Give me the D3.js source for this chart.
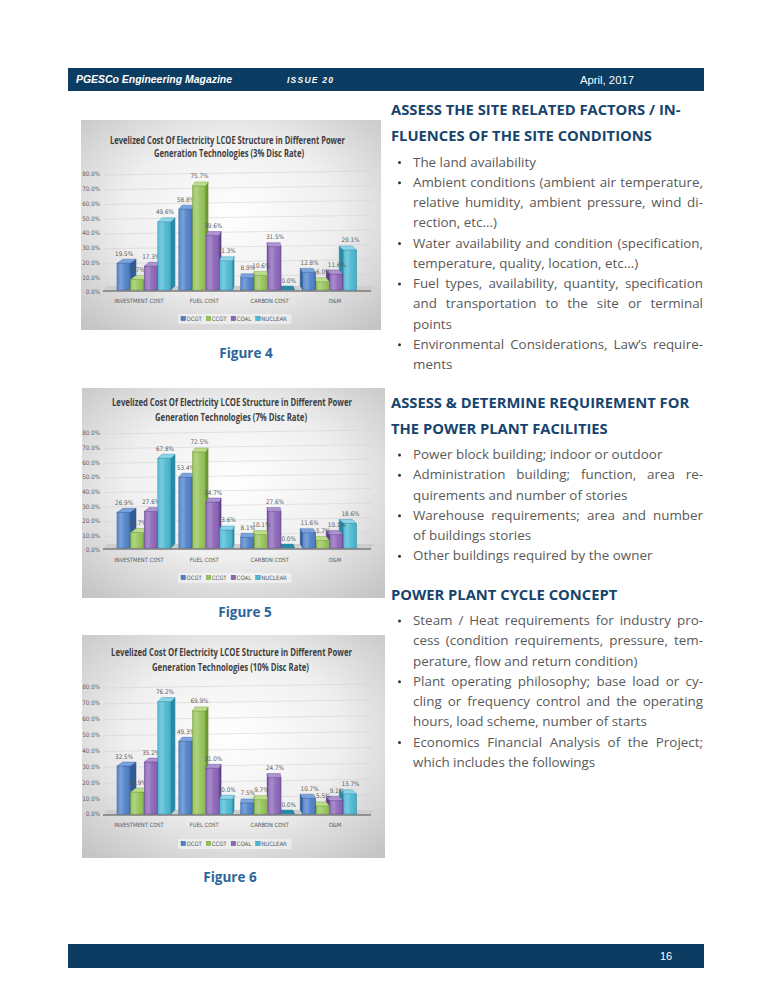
<!DOCTYPE html>
<html><head><meta charset="utf-8">
<script src="https://cdn.jsdelivr.net/npm/d3@7"></script>
<style>
html,body{margin:0;padding:0;background:#fff;}
svg{display:block;}
</style></head>
<body>
<svg id="page" width="772" height="1000"></svg>
<script>
// ---------------- DATA ----------------
const categories = ["INVESTMENT COST", "FUEL COST", "CARBON COST", "O&M"];
const technologies = ["OCGT", "CCGT", "COAL", "NUCLEAR"];
const yTicks = [0, 10, 20, 30, 40, 50, 60, 70, 80];

// 3% discount rate (values per technology, in category order)
const disc3_OCGT    = [19.5, 58.8, 8.9, 12.8];
const disc3_CCGT    = [7.7, 75.7, 10.6, 6.0];
const disc3_COAL    = [17.3, 39.6, 31.5, 11.6];
const disc3_NUCLEAR = [49.6, 21.3, 0.0, 29.1];
// 7% discount rate
const disc7_OCGT    = [26.9, 53.4, 8.1, 11.6];
const disc7_CCGT    = [11.7, 72.5, 10.1, 5.7];
const disc7_COAL    = [27.6, 34.7, 27.6, 10.1];
const disc7_NUCLEAR = [67.8, 13.6, 0.0, 18.6];
// 10% discount rate
const disc10_OCGT    = [32.5, 49.3, 7.5, 10.7];
const disc10_CCGT    = [14.9, 69.9, 9.7, 5.5];
const disc10_COAL    = [35.2, 31.0, 24.7, 9.1];
const disc10_NUCLEAR = [76.2, 10.0, 0.0, 13.7];

const chartTitleLine1 = "Levelized Cost Of Electricity LCOE Structure in Different Power";
const chartTitleLine2 = ["Generation Technologies (3% Disc Rate)", "Generation Technologies (7% Disc Rate)", "Generation Technologies (10% Disc Rate)"];
const figureLabels = ["Figure 4", "Figure 5", "Figure 6"];

const headerLeft = "PGESCo Engineering Magazine";
const headerIssue = "ISSUE 20";
const headerDate = "April, 2017";
const pageNumber = "16";

const section1Heading = ["ASSESS THE SITE RELATED FACTORS / IN-", "FLUENCES OF THE SITE CONDITIONS"];
const section1Items = [
  ["The land availability"],
  ["Ambient conditions (ambient air temperature,", "relative humidity, ambient pressure, wind di-", "rection, etc...)"],
  ["Water availability and condition (specification,", "temperature, quality, location, etc...)"],
  ["Fuel types, availability, quantity, specification", "and transportation to the site or terminal", "points"],
  ["Environmental Considerations, Law\u2019s require-", "ments"]
];
const section2Heading = ["ASSESS & DETERMINE REQUIREMENT FOR", "THE POWER PLANT FACILITIES"];
const section2Items = [
  ["Power block building; indoor or outdoor"],
  ["Administration building; function, area re-", "quirements and number of stories"],
  ["Warehouse requirements; area and number", "of buildings stories"],
  ["Other buildings required by the owner"]
];
const section3Heading = ["POWER PLANT CYCLE CONCEPT"];
const section3Items = [
  ["Steam / Heat requirements for industry pro-", "cess (condition requirements, pressure, tem-", "perature, flow and return condition)"],
  ["Plant operating philosophy; base load or cy-", "cling or frequency control and the operating", "hours, load scheme, number of starts"],
  ["Economics Financial Analysis of the Project;", "which includes the followings"]
];

// ---------------- STYLE ----------------
const NAVY = "#0c3c61";
const HEAD = "#16446d";
const BODY = "#595959";
const FIG = "#2a6599";
const techColors = {
  OCGT:    {front: "#4f81c9", side: "#2d5c98", top: "#7ba3dd"},
  CCGT:    {front: "#96c45a", side: "#6c9833", top: "#bcdd8c"},
  COAL:    {front: "#8c66b9", side: "#5d3e8b", top: "#ae93d2"},
  NUCLEAR: {front: "#4cb9d3", side: "#2a89a4", top: "#8ad5e8"}
};
const CHART_FONT = "'Liberation Sans Narrow','DejaVu Sans Condensed','Liberation Sans',Arial,sans-serif";

const svg = d3.select("#page");
const defs = svg.append("defs");
const rg = defs.append("radialGradient").attr("id", "chartBg").attr("cx", "50%").attr("cy", "45%").attr("r", "72%");
rg.append("stop").attr("offset", "0%").attr("stop-color", "#ffffff");
rg.append("stop").attr("offset", "50%").attr("stop-color", "#efefef");
rg.append("stop").attr("offset", "100%").attr("stop-color", "#c4c4c4");
const gl = defs.append("linearGradient").attr("id", "glass").attr("x1", 0).attr("x2", 1).attr("y1", 0).attr("y2", 0);
gl.append("stop").attr("offset", "0").attr("stop-color", "#fff").attr("stop-opacity", 0.05);
gl.append("stop").attr("offset", "0.3").attr("stop-color", "#fff").attr("stop-opacity", 0.25);
gl.append("stop").attr("offset", "0.6").attr("stop-color", "#fff").attr("stop-opacity", 0.05);
gl.append("stop").attr("offset", "1").attr("stop-color", "#000").attr("stop-opacity", 0.08);

// ---------------- HEADER / FOOTER ----------------
svg.append("rect").attr("x", 68).attr("y", 68).attr("width", 636).attr("height", 23).attr("fill", NAVY);
svg.append("text").attr("x", 76).attr("y", 83).attr("font-family", "'Liberation Sans',Arial,sans-serif")
  .attr("font-size", 10.5).attr("font-weight", "bold").attr("font-style", "italic").attr("fill", "#fff")
  .attr("textLength", 156).attr("lengthAdjust", "spacingAndGlyphs").text(headerLeft);
svg.append("text").attr("x", 287).attr("y", 83).attr("font-family", "'Liberation Sans',Arial,sans-serif")
  .attr("font-size", 8.5).attr("font-weight", "bold").attr("font-style", "italic").attr("fill", "#fff")
  .attr("textLength", 46).attr("lengthAdjust", "spacing").text(headerIssue);
svg.append("text").attr("x", 580).attr("y", 84).attr("font-family", "'Liberation Sans',Arial,sans-serif")
  .attr("font-size", 11).attr("fill", "#fff")
  .attr("textLength", 54).attr("lengthAdjust", "spacingAndGlyphs").text(headerDate);

svg.append("rect").attr("x", 68).attr("y", 944).attr("width", 636).attr("height", 24).attr("fill", NAVY);
svg.append("text").attr("x", 660).attr("y", 960).attr("font-family", "'Liberation Sans',Arial,sans-serif")
  .attr("font-size", 11).attr("fill", "#fff").text(pageNumber);

// ---------------- CHARTS ----------------
const chartLayouts = [
  {series: [disc3_OCGT, disc3_CCGT, disc3_COAL, disc3_NUCLEAR], box: [81, 120, 300, 210],
   t1: [110, 345, 144], t2: [154, 304, 156.5], base: 290, top: 180, axisBase: 292, axisTop: 174,
   xLabY: 303, legY: 321, fig: [246, 358]},
  {series: [disc7_OCGT, disc7_CCGT, disc7_COAL, disc7_NUCLEAR], box: [82, 388, 303, 210],
   t1: [112, 352, 405.5], t2: [155, 307, 420.5], base: 548, top: 442, axisBase: 550, axisTop: 433,
   xLabY: 562, legY: 580, fig: [245, 617]},
  {series: [disc10_OCGT, disc10_CCGT, disc10_COAL, disc10_NUCLEAR], box: [82, 635, 303, 223],
   t1: [111, 352, 655.5], t2: [152, 309, 670.5], base: 814, top: 696, axisBase: 814, axisTop: 687,
   xLabY: 827, legY: 846, fig: [230, 882]}
];

const VANISH_X = 256, PERSP = 0.045, DEPTH_Y = 4;

function drawChart(cfg, idx) {
  const g = svg.append("g");
  const [bx, by, bw, bh] = cfg.box;
  g.append("rect").attr("x", bx).attr("y", by).attr("width", bw).attr("height", bh).attr("fill", "url(#chartBg)");

  const titleFont = "'Open Sans','Liberation Sans',Arial,sans-serif";
  g.append("text").attr("x", cfg.t1[0]).attr("y", cfg.t1[2]).attr("font-family", titleFont)
    .attr("font-size", 10).attr("font-weight", "bold").attr("fill", "#3f3f3f")
    .attr("textLength", cfg.t1[1] - cfg.t1[0]).attr("lengthAdjust", "spacingAndGlyphs").text(chartTitleLine1);
  g.append("text").attr("x", cfg.t2[0]).attr("y", cfg.t2[2]).attr("font-family", titleFont)
    .attr("font-size", 10).attr("font-weight", "bold").attr("fill", "#3f3f3f")
    .attr("textLength", cfg.t2[1] - cfg.t2[0]).attr("lengthAdjust", "spacingAndGlyphs").text(chartTitleLine2[idx]);

  const yAxisScale = d3.scaleLinear().domain([0, 80]).range([cfg.axisBase, cfg.axisTop]);
  const y = d3.scaleLinear().domain([0, 80]).range([cfg.base, cfg.top]);

  // gridlines (back wall)
  g.selectAll("line.grid").data(yTicks.slice(1)).join("line").attr("class", "grid")
    .attr("x1", 104).attr("x2", 372)
    .attr("y1", d => yAxisScale(d) + 1).attr("y2", d => yAxisScale(d) - 3)
    .attr("stroke", "#d4d4d4").attr("stroke-width", 0.6);

  // y axis labels
  const yAxis = d3.axisLeft(yAxisScale).tickValues(yTicks).tickSize(0).tickPadding(0)
    .tickFormat(d => d.toFixed(1) + "%");
  const ax = g.append("g").attr("transform", "translate(100,0)").call(yAxis);
  ax.select(".domain").remove();
  ax.selectAll("text").attr("font-family", CHART_FONT).attr("font-size", 6.2).attr("fill", "#595959");

  // floor
  const fb = cfg.base;
  g.append("polygon").attr("points", [[103, fb + 1], [371, fb + 1], [375, fb - 4], [107, fb - 4]].map(p => p.join(",")).join(" "))
    .attr("fill", "#cdcdcd");
  g.append("line").attr("x1", 103).attr("x2", 371).attr("y1", fb + 1).attr("y2", fb + 1)
    .attr("stroke", "#7a7a7a").attr("stroke-width", 1.3);

  // bars (painter's order: farthest from the vanishing point first)
  const x0 = d3.scaleBand().domain(categories).range([117, 357]).paddingInner(0.12);
  const x1 = d3.scaleBand().domain(technologies).range([0, x0.bandwidth()]);
  const bars = [];
  categories.forEach((cat, ci) => technologies.forEach((tech, ti) => {
    const xl = x0(cat) + x1(tech), w = x1.bandwidth() - 0.5;
    bars.push({cat, tech, v: cfg.series[ti][ci], xl, w, dx: PERSP * (VANISH_X - (xl + w / 2))});
  }));
  bars.sort((a, b) => Math.abs(b.dx) - Math.abs(a.dx));
  const dy = DEPTH_Y;
  const pts = arr => arr.map(p => p.join(",")).join(" ");
  bars.forEach(b => {
    const c = techColors[b.tech];
    const {xl, w, dx} = b;
    const yt = y(b.v), yb = y(0);
    const bg = g.append("g");
    // side face (right side if dx>0, left side if dx<0)
    const sx = dx > 0 ? xl + w : xl;
    bg.append("polygon").attr("points", pts([[sx, yt], [sx + dx, yt - dy], [sx + dx, yb - dy], [sx, yb]]))
      .attr("fill", c.side).attr("stroke", c.side).attr("stroke-width", 0.4);
    if (yb - yt > 0.01) {
      bg.append("rect").attr("x", xl).attr("y", yt).attr("width", w).attr("height", yb - yt)
        .attr("fill", c.front).attr("stroke", c.side).attr("stroke-width", 0.5);
      bg.append("rect").attr("x", xl).attr("y", yt).attr("width", w).attr("height", yb - yt)
        .attr("fill", "url(#glass)");
    }
    // top face
    bg.append("polygon").attr("points", pts([[xl, yt], [xl + dx, yt - dy], [xl + w + dx, yt - dy], [xl + w, yt]]))
      .attr("fill", b.v > 0 ? c.top : c.side).attr("stroke", c.side).attr("stroke-width", 0.4);
    // value label
    bg.append("text").attr("x", xl + w / 2 + 0.5).attr("y", yt - dy - 3.5).attr("text-anchor", "middle")
      .attr("font-family", CHART_FONT).attr("font-size", 6.3).attr("fill", "#595959")
      .text(b.v.toFixed(1) + "%");
  });

  // category labels
  const xl = d3.scalePoint().domain(categories).range([139, 335]);
  g.selectAll("text.cat").data(categories).join("text").attr("class", "cat")
    .attr("x", d => xl(d)).attr("y", cfg.xLabY).attr("text-anchor", "middle")
    .attr("font-family", CHART_FONT).attr("font-size", 5.8).attr("fill", "#595959").text(d => d);

  // legend
  const lg = g.append("g");
  const bgRect = lg.append("rect").attr("y", cfg.legY - 7).attr("height", 10).attr("fill", "#fff").attr("opacity", 0.45);
  let cx = 181;
  technologies.forEach(tech => {
    lg.append("rect").attr("x", cx).attr("y", cfg.legY - 4.8).attr("width", 4.5).attr("height", 4.5)
      .attr("fill", techColors[tech].front).attr("stroke", techColors[tech].side).attr("stroke-width", 0.4);
    const t = lg.append("text").attr("x", cx + 5.5).attr("y", cfg.legY).attr("font-family", CHART_FONT)
      .attr("font-size", 6).attr("fill", "#595959").text(tech);
    cx += 5.5 + t.node().getComputedTextLength() + 4.5;
  });
  bgRect.attr("x", 178).attr("width", cx - 178);

  // figure caption
  svg.append("text").attr("x", cfg.fig[0]).attr("y", cfg.fig[1]).attr("text-anchor", "middle")
    .attr("font-family", "'Open Sans',sans-serif").attr("font-weight", "bold").attr("font-size", 13.5)
    .attr("fill", FIG).text(figureLabels[idx]);
}
chartLayouts.forEach(drawChart);

// ---------------- RIGHT COLUMN TEXT ----------------
const TEXT_FONT = "'Open Sans',sans-serif";
function fitSize(str, weight, target) {
  const t = svg.append("text").attr("font-family", TEXT_FONT).attr("font-weight", weight).attr("font-size", 20).text(str);
  const w = t.node().getComputedTextLength();
  t.remove();
  return 20 * target / w;
}
const bodySize = fitSize("The land availability", "normal", 123);
const headSize = fitSize("FLUENCES OF THE SITE CONDITIONS", "bold", 261);

function justifiedLine(str, x, yPos, width, justify) {
  const t = svg.append("text").attr("y", yPos).attr("font-family", TEXT_FONT).attr("font-size", bodySize).attr("fill", BODY);
  const words = str.split(" ");
  if (!justify || words.length < 2) { t.attr("x", x).text(str); return; }
  const widths = words.map(wd => {
    const tmp = svg.append("text").attr("font-family", TEXT_FONT).attr("font-size", bodySize).text(wd);
    const w = tmp.node().getComputedTextLength(); tmp.remove(); return w;
  });
  const gap = (width - d3.sum(widths)) / (words.length - 1);
  let cx = x;
  words.forEach((wd, i) => { t.append("tspan").attr("x", cx).text(wd); cx += widths[i] + gap; });
}

function drawSection(heading, headY, items, bodyY) {
  heading.forEach((h, i) => {
    svg.append("text").attr("x", 391).attr("y", headY + i * 26).attr("font-family", TEXT_FONT)
      .attr("font-weight", "bold").attr("font-size", headSize).attr("fill", HEAD).text(h);
  });
  let yy = bodyY;
  items.forEach(lines => {
    svg.append("circle").attr("cx", 399.5).attr("cy", yy - 4).attr("r", 1.5).attr("fill", "#333");
    lines.forEach((ln, li) => {
      justifiedLine(ln, 413, yy, 290, li < lines.length - 1);
      yy += 20.25;
    });
  });
}
drawSection(section1Heading, 114.5, section1Items, 166.5);
drawSection(section2Heading, 408, section2Items, 459);
drawSection(section3Heading, 600, section3Items, 625);
</script>
</body></html>
